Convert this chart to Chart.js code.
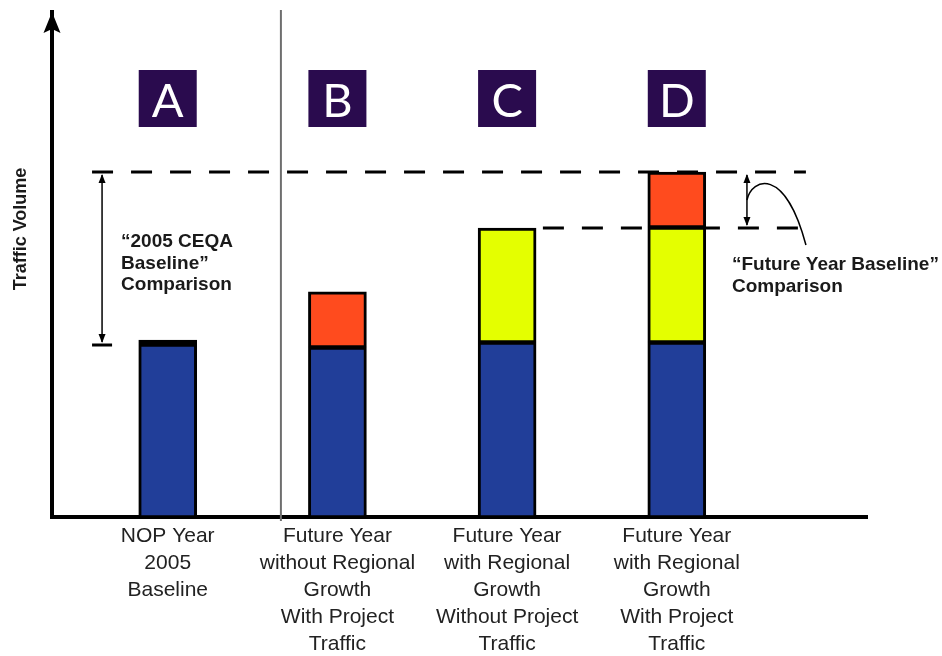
<!DOCTYPE html>
<html>
<head>
<meta charset="utf-8">
<script src="https://cdn.jsdelivr.net/npm/chart.js@4"></script>
<style>
  html, body { margin: 0; padding: 0; background: #ffffff; }
  #wrap { width: 942px; height: 656px; position: relative; }
</style>
</head>
<body>
<div id="wrap"><canvas id="c"></canvas></div>
<script>
// ---- data ----
const categories = [
  ['NOP Year', '2005', 'Baseline'],
  ['Future Year', 'without Regional', 'Growth', 'With Project', 'Traffic'],
  ['Future Year', 'with Regional', 'Growth', 'Without Project', 'Traffic'],
  ['Future Year', 'with Regional', 'Growth', 'With Project', 'Traffic']
];
const letters = ['A', 'B', 'C', 'D'];
const existingTraffic = [44.25, 42.5, 43.75, 43.75];   // blue
const regionalGrowth  = [null, null, 28.5, 28.75];     // yellow
const projectTraffic  = [null, 13.8, null, 13.75];     // orange
const axisTitle = 'Traffic Volume';
const ceqaText = ['\u201C2005 CEQA', 'Baseline\u201D', 'Comparison'];
const futureText = ['\u201CFuture Year Baseline\u201D', 'Comparison'];

const totals = existingTraffic.map((v, i) => v + (regionalGrowth[i] || 0) + (projectTraffic[i] || 0));
const toPts = arr => arr.map((v, i) => ({ x: i, y: v }));

const FONT = "'Liberation Sans', Arial, Helvetica, sans-serif";

function arrowHead(ctx, x, y, dir) {
  ctx.beginPath();
  ctx.moveTo(x, y);
  ctx.lineTo(x - 3.5, y - dir * 9);
  ctx.lineTo(x + 3.5, y - dir * 9);
  ctx.closePath();
  ctx.fill();
}

const annotations = {
  id: 'annotations',
  beforeDatasetsDraw(chart) {
    const { ctx, scales: { x, y } } = chart;
    const yTop = y.getPixelForValue(totals[3]);
    const yMid = y.getPixelForValue(totals[2]);
    ctx.save();
    ctx.strokeStyle = '#000';
    ctx.lineWidth = 3;
    ctx.setLineDash([21, 18]);
    ctx.beginPath();
    ctx.moveTo(x.getPixelForValue(-0.446), yTop);
    ctx.lineTo(x.getPixelForValue(3.761), yTop);
    ctx.stroke();
    ctx.beginPath();
    ctx.moveTo(x.getPixelForValue(2.211), yMid);
    ctx.lineTo(x.getPixelForValue(3.761), yMid);
    ctx.stroke();
    ctx.restore();
  },
  afterDraw(chart) {
    const { ctx, scales: { x, y }, chartArea } = chart;
    const meta = chart.getDatasetMeta(0);
    const yTop = y.getPixelForValue(totals[3]);
    const yMid = y.getPixelForValue(totals[2]);
    const yA = y.getPixelForValue(existingTraffic[0]) + 5;
    ctx.save();

    // divider between A and the future-year bars
    const dx = x.getPixelForValue(0.667);
    ctx.strokeStyle = '#6e6e6e';
    ctx.lineWidth = 2;
    ctx.beginPath();
    ctx.moveTo(dx, chartArea.top - 2);
    ctx.lineTo(dx, chartArea.bottom + 4);
    ctx.stroke();

    // y axis arrow head
    const ax0 = chartArea.left;
    ctx.fillStyle = '#000';
    ctx.beginPath();
    ctx.moveTo(ax0, chartArea.top);
    ctx.lineTo(ax0 - 8.5, chartArea.top + 21);
    ctx.lineTo(ax0, chartArea.top + 17);
    ctx.lineTo(ax0 + 8.5, chartArea.top + 21);
    ctx.closePath();
    ctx.fill();

    // letter boxes
    meta.data.forEach((bar, i) => {
      const w = bar.width;
      ctx.fillStyle = '#2a0b4e';
      ctx.fillRect(bar.x - w / 2, chartArea.top + 58, w, 57);
      ctx.fillStyle = '#ffffff';
      ctx.font = "47px Lato, 'Open Sans', sans-serif";
      ctx.textAlign = 'center';
      ctx.textBaseline = 'alphabetic';
      ctx.fillText(letters[i], bar.x, chartArea.top + 104.5);
    });

    // left bracket (2005 CEQA comparison)
    const bx = x.getPixelForValue(-0.387);
    ctx.strokeStyle = '#000';
    ctx.fillStyle = '#000';
    ctx.lineWidth = 1.5;
    ctx.beginPath();
    ctx.moveTo(bx, yTop + 3);
    ctx.lineTo(bx, yA - 3);
    ctx.stroke();
    arrowHead(ctx, bx, yTop + 2, -1);
    arrowHead(ctx, bx, yA - 2, 1);
    ctx.lineWidth = 3;
    ctx.beginPath();
    ctx.moveTo(x.getPixelForValue(-0.446), yA);
    ctx.lineTo(x.getPixelForValue(-0.328), yA);
    ctx.stroke();

    // right arrow (future year comparison)
    const rx = x.getPixelForValue(3.4135);
    ctx.lineWidth = 1.5;
    ctx.beginPath();
    ctx.moveTo(rx, yTop + 3);
    ctx.lineTo(rx, yMid - 3);
    ctx.stroke();
    arrowHead(ctx, rx, yTop + 2, -1);
    arrowHead(ctx, rx, yMid - 2, 1);
    const cy0 = (yTop + yMid) / 2;
    ctx.beginPath();
    ctx.moveTo(rx, cy0);
    ctx.bezierCurveTo(rx + 5, yTop + 6, rx + 38, yTop - 6, rx + 59, yMid + 17);
    ctx.stroke();

    // comparison texts
    ctx.fillStyle = '#1a1a1a';
    ctx.font = 'bold 19px ' + FONT;
    ctx.textAlign = 'left';
    ctx.textBaseline = 'alphabetic';
    ceqaText.forEach((t, i) => ctx.fillText(t, bx + 19, 247 + i * 21.5));
    futureText.forEach((t, i) => ctx.fillText(t, rx - 15, 270 + i * 22));

    // y axis title
    ctx.translate(21, 229);
    ctx.rotate(-Math.PI / 2);
    ctx.textAlign = 'center';
    ctx.textBaseline = 'middle';
    ctx.font = 'bold 18px ' + FONT;
    ctx.fillText(axisTitle, 0, 0);
    ctx.restore();
  }
};

const commonBar = {
  borderColor: '#000000',
  borderSkipped: false,
  barThickness: 58
};

new Chart(document.getElementById('c'), {
  type: 'bar',
  data: {
    datasets: [
      Object.assign({
        label: 'Existing traffic',
        data: toPts(existingTraffic),
        backgroundColor: '#213e99',
        borderWidth: ctx => ctx.dataIndex === 0
          ? { top: 7, left: 3, right: 3, bottom: 2 }
          : { top: 3, left: 3, right: 3, bottom: 2 }
      }, commonBar),
      Object.assign({
        label: 'Regional growth',
        data: toPts(regionalGrowth),
        backgroundColor: '#e4ff00',
        borderWidth: { top: 3, left: 3, right: 3, bottom: 2 }
      }, commonBar),
      Object.assign({
        label: 'Project traffic',
        data: toPts(projectTraffic),
        backgroundColor: '#ff4b1e',
        borderWidth: { top: 3, left: 3, right: 3, bottom: 2 }
      }, commonBar)
    ]
  },
  options: {
    responsive: true,
    maintainAspectRatio: false,
    animation: false,
    layout: { padding: { top: 12, right: 75, left: 0, bottom: 0 } },
    plugins: { legend: { display: false }, tooltip: { enabled: false } },
    scales: {
      x: {
        type: 'linear',
        stacked: true,
        offset: false,
        min: -0.682,
        max: 4.121,
        grid: { display: false, drawTicks: false, offset: false },
        border: { display: true, color: '#000', width: 4 },
        afterBuildTicks: s => { s.ticks = categories.map((_, i) => ({ value: i })); },
        afterFit: s => { s.height = 139; },
        ticks: {
          autoSkip: false,
          maxRotation: 0,
          minRotation: 0,
          padding: 6,
          color: '#222',
          font: { family: FONT, size: 21, lineHeight: '27px' },
          callback: v => categories[v]
        }
      },
      y: {
        stacked: true,
        min: 0,
        max: 126.25,
        grid: { display: false, drawTicks: false },
        border: { display: true, color: '#000', width: 4 },
        ticks: { display: false },
        afterFit: s => { s.width = 52; }
      }
    }
  },
  plugins: [annotations]
});
</script>
</body>
</html>
